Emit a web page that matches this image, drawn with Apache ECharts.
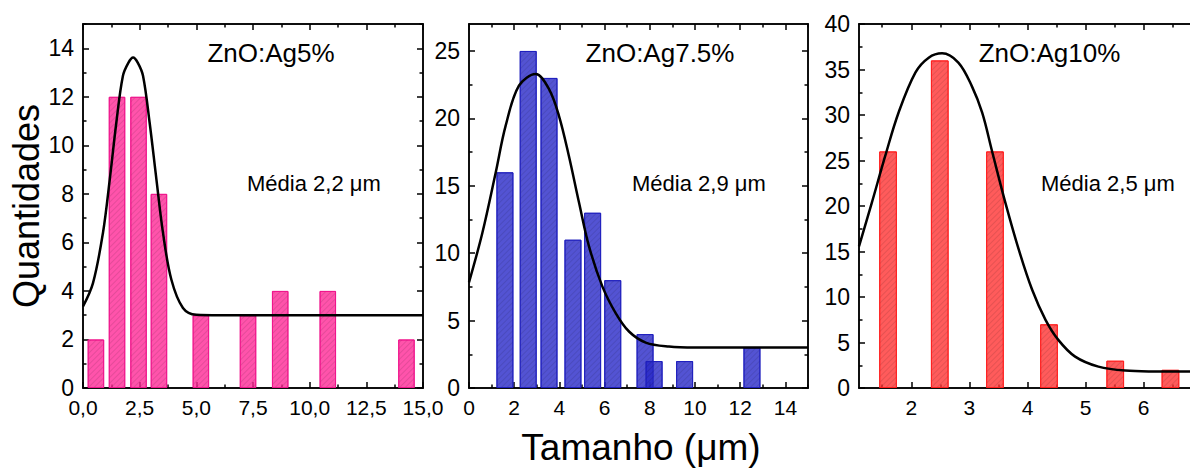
<!DOCTYPE html>
<html>
<head>
<meta charset="utf-8">
<script src="https://cdn.jsdelivr.net/npm/echarts@6/dist/echarts.min.js"></script>
<style>
html,body{margin:0;padding:0;background:#fff;}
#chart{width:1190px;height:468px;}
</style>
</head>
<body>
<div id="chart"></div>
<script>
// ---------- data ----------
const panelTitles = ['ZnO:Ag5%', 'ZnO:Ag7.5%', 'ZnO:Ag10%'];
const meanLabels = ['Média 2,2 μm', 'Média 2,9 μm', 'Média 2,5 μm'];
const yAxisTitle = 'Quantidades';
const xAxisTitle = 'Tamanho (μm)';

// panel 1 (ZnO:Ag5%)
const bins1 = [0.57, 1.5, 2.45, 3.35, 5.2, 7.28, 8.7, 10.8, 14.27];
const counts1 = [2, 12, 12, 8, 3, 3, 4, 4, 2];
const fitX1 = [0, 0.44, 0.88, 1.18, 1.47, 1.76, 2.0, 2.21, 2.42, 2.65, 2.94, 3.24, 3.53, 3.9, 4.41, 5.0, 6.0, 15];
const fitY1 = [3.36, 4.32, 6.39, 8.59, 10.93, 12.86, 13.4, 13.62, 13.4, 12.86, 10.93, 8.59, 6.39, 4.46, 3.3, 3.02, 3.0, 3.0];
const xTicks1 = [0, 2.5, 5, 7.5, 10, 12.5, 15];
const xTickLabels1 = ['0,0', '2,5', '5,0', '7,5', '10,0', '12,5', '15,0'];
const xMinor1 = [1.25, 3.75, 6.25, 8.75, 11.25, 13.75];
const yTicks1 = [0, 2, 4, 6, 8, 10, 12, 14];
const yTickLabels1 = ['0', '2', '4', '6', '8', '10', '12', '14'];
const yMinor1 = [1, 3, 5, 7, 9, 11, 13, 15];

// panel 2 (ZnO:Ag7.5%)
const bins2 = [1.59, 2.62, 3.54, 4.6, 5.47, 6.36, 7.79, 8.19, 9.54, 12.52];
const counts2 = [16, 25, 23, 11, 13, 8, 4, 2, 2, 3];
const fitX2 = [0, 0.59, 1.18, 1.62, 2.21, 2.95, 3.54, 3.98, 4.42, 4.87, 5.31, 5.9, 6.49, 7.08, 7.82, 8.85, 10, 15];
const fitY2 = [7.84, 11.5, 15.97, 19.44, 22.42, 23.29, 22.17, 20.19, 17.21, 13.74, 10.51, 7.54, 5.56, 4.19, 3.37, 3.07, 3.0, 3.0];
const xTicks2 = [0, 2, 4, 6, 8, 10, 12, 14];
const xTickLabels2 = ['0', '2', '4', '6', '8', '10', '12', '14'];
const xMinor2 = [1, 3, 5, 7, 9, 11, 13, 15];
const yTicks2 = [0, 5, 10, 15, 20, 25];
const yTickLabels2 = ['0', '5', '10', '15', '20', '25'];
const yMinor2 = [2.5, 7.5, 12.5, 17.5, 22.5];

// panel 3 (ZnO:Ag10%)
const bins3 = [1.6, 2.49, 3.44, 4.37, 5.51, 6.46];
const counts3 = [26, 36, 26, 7, 3, 2];
const fitX3 = [1.1, 1.32, 1.55, 1.78, 2.07, 2.3, 2.53, 2.81, 3.04, 3.22, 3.39, 3.62, 3.85, 4.08, 4.31, 4.53, 4.82, 5.22, 5.68, 6.2, 6.9];
const fitY3 = [15.56, 20.34, 25.47, 30.25, 34.66, 36.3, 36.78, 35.76, 33.2, 30.25, 26.02, 20.34, 15.2, 10.79, 7.49, 5.29, 3.45, 2.35, 1.91, 1.82, 1.8];
const xTicks3 = [2, 3, 4, 5, 6];
const xTickLabels3 = ['2', '3', '4', '5', '6'];
const xMinor3 = [1.5, 2.5, 3.5, 4.5, 5.5, 6.5];
const yTicks3 = [0, 5, 10, 15, 20, 25, 30, 35, 40];
const yTickLabels3 = ['0', '5', '10', '15', '20', '25', '30', '35', '40'];
const yMinor3 = [2.5, 7.5, 12.5, 17.5, 22.5, 27.5, 32.5, 37.5];

// ---------- layout / style ----------
const FONT = '"Liberation Sans", Arial, sans-serif';
const panels = [
  {grid: {left: 83, top: 24, width: 340, bottom: 80}, xr: [0, 15], yr: [0, 15],
   bins: bins1, counts: counts1, fx: fitX1, fy: fitY1,
   xT: xTicks1, xL: xTickLabels1, xM: xMinor1, yT: yTicks1, yL: yTickLabels1, yM: yMinor1,
   fill: 'rgba(255,40,150,0.8)', border: 'rgba(240,20,140,0.9)', barW: 16.5,
   title: [271, 53], mean: [247, 183]},
  {grid: {left: 469, top: 24, width: 339, bottom: 80}, xr: [0, 15], yr: [0, 27],
   bins: bins2, counts: counts2, fx: fitX2, fy: fitY2,
   xT: xTicks2, xL: xTickLabels2, xM: xMinor2, yT: yTicks2, yL: yTickLabels2, yM: yMinor2,
   fill: 'rgba(40,40,200,0.8)', border: 'rgba(30,30,190,0.9)', barW: 17,
   title: [660, 53], mean: [632, 183]},
  {grid: {left: 859, top: 24, right: -6, bottom: 80}, xr: [1.1, 6.9], yr: [0, 40],
   bins: bins3, counts: counts3, fx: fitX3, fy: fitY3,
   xT: xTicks3, xL: xTickLabels3, xM: xMinor3, yT: yTicks3, yL: yTickLabels3, yM: yMinor3,
   fill: 'rgba(255,50,50,0.8)', border: 'rgba(255,30,30,0.9)', barW: 17.7,
   title: [1049.5, 53], mean: [1041, 183]}
];

function mkAxis(gi, pos, range, ticks, labels, tickLen, fontSize, margin) {
  const showLabel = !!labels;
  return {
    type: 'value', gridIndex: gi, position: pos, min: range[0], max: range[1],
    axisLine: {show: true, onZero: false, lineStyle: {color: '#000', width: 1.5}},
    axisTick: {show: true, inside: true, length: tickLen, customValues: ticks,
               lineStyle: {color: '#000', width: 1.5}},
    minorTick: {show: false},
    splitLine: {show: false},
    axisLabel: showLabel ? {
      show: true, customValues: ticks, color: '#000', fontSize: fontSize, fontFamily: FONT,
      margin: margin, lineHeight: 18,
      formatter: function (v) {
        const i = ticks.findIndex(t => Math.abs(t - v) < 1e-9);
        return i >= 0 ? labels[i] : '';
      }
    } : {show: false}
  };
}

const grids = [], xAxes = [], yAxes = [], series = [], graphics = [];
panels.forEach((p, k) => {
  grids.push(Object.assign({outerBoundsMode: 'none', containLabel: false}, p.grid));
  const xb = xAxes.length, yb = yAxes.length;
  xAxes.push(mkAxis(k, 'bottom', p.xr, p.xT, p.xL, 6, 21, 10));
  xAxes.push(mkAxis(k, 'bottom', p.xr, p.xM, null, 3.5));
  xAxes.push(mkAxis(k, 'top', p.xr, p.xT, null, 6));
  xAxes.push(mkAxis(k, 'top', p.xr, p.xM, null, 3.5));
  yAxes.push(mkAxis(k, 'left', p.yr, p.yT, p.yL, 6, 23, 9));
  yAxes.push(mkAxis(k, 'left', p.yr, p.yM, null, 3.5));
  yAxes.push(mkAxis(k, 'right', p.yr, p.yT, null, 6));
  yAxes.push(mkAxis(k, 'right', p.yr, p.yM, null, 3.5));

  series.push({
    type: 'bar', xAxisIndex: xb, yAxisIndex: yb, barWidth: p.barW,
    data: p.bins.map((x, i) => [x, p.counts[i]]),
    itemStyle: {
      color: p.fill, borderColor: p.border, borderWidth: 1,
      decal: {symbol: 'rect', symbolSize: 1, dashArrayX: [1, 0], dashArrayY: [1, 3],
              rotation: -Math.PI / 4, color: 'rgba(0,0,0,0.10)'}
    },
    z: 2, silent: true, animation: false
  });
  series.push({
    type: 'line', xAxisIndex: xb, yAxisIndex: yb, smooth: 0.35, showSymbol: false,
    data: p.fx.map((x, i) => [x, p.fy[i]]),
    lineStyle: {color: '#000', width: 2.5}, z: 3, silent: true, animation: false, clip: true
  });

  graphics.push({type: 'text', x: p.title[0], y: p.title[1],
    style: {text: panelTitles[k], fontSize: 26, fontFamily: FONT, fill: '#000',
            textAlign: 'center', textVerticalAlign: 'middle'}});
  graphics.push({type: 'text', x: p.mean[0], y: p.mean[1],
    style: {text: meanLabels[k], fontSize: 22, fontFamily: FONT, fill: '#000',
            textAlign: 'left', textVerticalAlign: 'middle'}});
});

graphics.push({type: 'text', x: 26, y: 206, rotation: Math.PI / 2,
  style: {text: yAxisTitle, fontSize: 36, fontFamily: FONT, fill: '#000',
          textAlign: 'center', textVerticalAlign: 'middle'}});
graphics.push({type: 'text', x: 641, y: 447,
  style: {text: xAxisTitle, fontSize: 37, fontFamily: FONT, fill: '#000',
          textAlign: 'center', textVerticalAlign: 'middle'}});

const chart = echarts.init(document.getElementById('chart'), null, {renderer: 'svg'});
chart.setOption({
  backgroundColor: '#fff',
  animation: false,
  grid: grids,
  xAxis: xAxes,
  yAxis: yAxes,
  series: series,
  graphic: graphics
});
</script>
</body>
</html>
